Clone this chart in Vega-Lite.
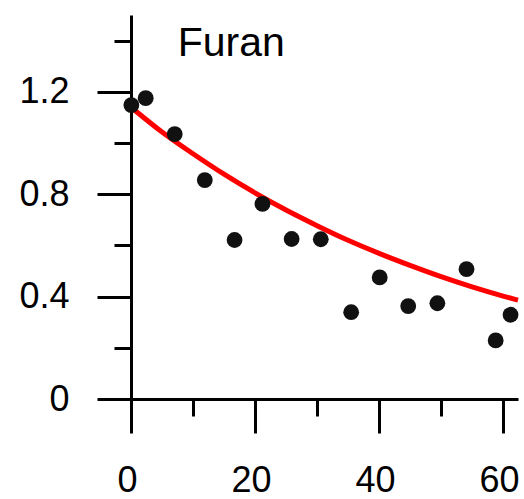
{
  "$schema": "https://vega.github.io/schema/vega-lite/v6.json",
  "autosize": "none",
  "width": 387,
  "height": 384,
  "padding": {"left": 131, "top": 15, "right": 6, "bottom": 100},
  "config": {
    "view": {"stroke": null},
    "font": "Liberation Sans",
    "axis": {
      "grid": false,
      "domainColor": "#000",
      "domainWidth": 3,
      "tickColor": "#000",
      "tickWidth": 3,
      "labelFont": "Liberation Sans",
      "labelFontSize": 36,
      "labelColor": "#000",
      "title": null
    }
  },
  "datasets": {
    "points": [
      {"x": 0.06, "y": 1.148},
      {"x": 2.37, "y": 1.175},
      {"x": 7.05, "y": 1.035},
      {"x": 11.9, "y": 0.855},
      {"x": 16.7, "y": 0.621},
      {"x": 21.2, "y": 0.762},
      {"x": 25.9, "y": 0.625},
      {"x": 30.6, "y": 0.624},
      {"x": 35.5, "y": 0.339},
      {"x": 40.1, "y": 0.475},
      {"x": 44.7, "y": 0.363},
      {"x": 49.4, "y": 0.374},
      {"x": 54.1, "y": 0.507},
      {"x": 58.8, "y": 0.229},
      {"x": 61.2, "y": 0.329}
    ],
    "curve": [
      {"x": 0, "y": 1.14},
      {"x": 5, "y": 1.043},
      {"x": 10, "y": 0.958},
      {"x": 15, "y": 0.878},
      {"x": 20, "y": 0.805},
      {"x": 25, "y": 0.738},
      {"x": 30, "y": 0.677},
      {"x": 35, "y": 0.62},
      {"x": 40, "y": 0.569},
      {"x": 45, "y": 0.522},
      {"x": 50, "y": 0.478},
      {"x": 55, "y": 0.438},
      {"x": 60, "y": 0.402},
      {"x": 62.4, "y": 0.386}
    ],
    "label": [
      {"x": 7.53, "y": 1.34, "text": "Furan"}
    ]
  },
  "layer": [
    {
      "data": {"name": "curve"},
      "mark": {"type": "line", "color": "#ff0000", "strokeWidth": 5, "interpolate": "monotone"},
      "encoding": {
        "x": {
          "field": "x", "type": "quantitative",
          "scale": {"domain": [0, 62.4], "nice": false, "zero": false},
          "axis": {
            "values": [0, 10, 20, 30, 40, 50, 60],
            "labelExpr": "datum.value % 20 === 0 ? datum.label : ''",
            "tickSize": {"condition": {"test": "datum.value % 20 === 0", "value": 34}, "value": 17},
            "labelPadding": 30,
            "labelOffset": -4,
            "labelFlush": false,
            "labelOverlap": false
          }
        },
        "y": {
          "field": "y", "type": "quantitative",
          "scale": {"domain": [0, 1.5], "nice": false},
          "axis": {
            "values": [0, 0.2, 0.4, 0.6, 0.8, 1.0, 1.2, 1.4],
            "labelExpr": "round(datum.value * 5) % 2 === 0 ? format(datum.value, '~g') : ''",
            "tickSize": {"condition": {"test": "round(datum.value * 5) % 2 === 0", "value": 34}, "value": 17},
            "labelPadding": 28,
            "labelFlush": false,
            "labelOverlap": false
          }
        }
      }
    },
    {
      "data": {"name": "points"},
      "mark": {"type": "circle", "color": "#111", "size": 250, "opacity": 1},
      "encoding": {
        "x": {"field": "x", "type": "quantitative"},
        "y": {"field": "y", "type": "quantitative"}
      }
    },
    {
      "data": {"name": "label"},
      "mark": {"type": "text", "align": "left", "baseline": "alphabetic", "fontSize": 41, "color": "#000", "font": "Liberation Sans"},
      "encoding": {
        "x": {"field": "x", "type": "quantitative"},
        "y": {"field": "y", "type": "quantitative"},
        "text": {"field": "text"}
      }
    }
  ]
}
